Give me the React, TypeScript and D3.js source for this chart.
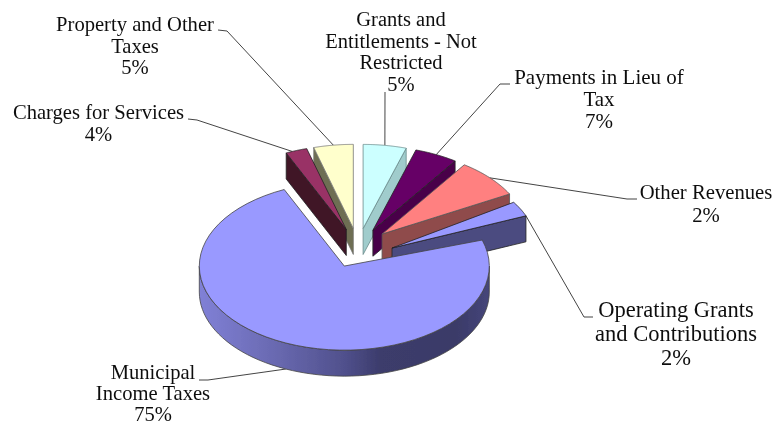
import React from "react";
import * as d3 from "d3";

const names = ["Grants", "Payments", "Other", "Operating", "Municipal", "Charges", "Property"];
const shares = [4.8, 4.8, 7.5, 2.9, 73.2, 2.4, 4.4];
const shownPercent = ["5%", "7%", "2%", "2%", "75%", "4%", "5%"];
const labelLines = [
  ["Grants and", "Entitlements - Not", "Restricted"],
  ["Payments in Lieu of", "Tax"],
  ["Other Revenues"],
  ["Operating Grants", "and Contributions"],
  ["Municipal", "Income Taxes"],
  ["Charges for Services"],
  ["Property and Other", "Taxes"],
];
const topColors = ["#CCFFFF", "#660066", "#FF8080", "#9999FF", "#9999FF", "#993366", "#FFFFCC"];
const wallColors = ["#A0CCCC", "#4A004A", "#8F4B4B", "#4C4C80", "#5a5a98", "#3F1428", "#6E6E52"];
const strokeColors = ["#6a8a8a", "#222", "#555", "#222", "#444", "#222", "#777"];

// layout
const CX = 358, CY = 248, R = 145, TILT = 0.58, DEPTH = 26, EXPLODE = 34;
const bearingOverride: (number | null)[] = [null, null, 45, 90, null, null, null];
const angleShift = [0, 0, 0, -4.5, 0, 0, 0];
const wallSide = ["end", "end", "end", "end", "rim", "start", "start"];
const drawOrder = [6, 5, 0, 1, 2, 3, 4];
const labelCenter: [number, number][] = [
  [401, 26], [599, 84], [706, 199], [676, 317], [153, 379], [98.5, 119], [135, 31],
];
const labelSize = [20.5, 21, 20.7, 22.5, 20.6, 20.6, 20.6];
const labelLead = [21.7, 22, 23, 24, 21.2, 22, 21.5];
const leader: { elbow: [number, number]; start: [number, number]; rimAt: number; dz: number }[] = [
  { start: [385, 92], elbow: [385, 92], rimAt: 0.5, dz: 0 },
  { start: [510, 84], elbow: [500, 84], rimAt: 0.5, dz: 0 },
  { start: [637, 199], elbow: [627, 199], rimAt: 0.5, dz: 0 },
  { start: [593, 317], elbow: [584, 317], rimAt: 0.98, dz: 0 },
  { start: [199, 380], elbow: [208, 380], rimAt: 0.5, dz: 26 },
  { start: [188, 119], elbow: [197, 120], rimAt: 0.3, dz: 0 },
  { start: [218, 30], elbow: [227, 31], rimAt: 0.5, dz: 0 },
];

const FONT = "'Liberation Serif','Times New Roman',serif";
const deg = Math.PI / 180;

export default function App() {
  const arcs = d3.pie<number>().sort(null).startAngle(0).endAngle(2 * Math.PI)(shares);
  const line = d3.line<[number, number]>();
  const yScale = d3.scaleLinear().domain([0, 1]).range([0, -TILT]);

  const geo = arcs.map((a, i) => {
    const s = a.startAngle + angleShift[i] * deg;
    const e = a.endAngle + angleShift[i] * deg;
    const mid = (a.startAngle + a.endAngle) / 2;
    const b = bearingOverride[i] != null ? (bearingOverride[i] as number) * deg : mid;
    const ax = CX + EXPLODE * Math.sin(b);
    const ay = CY + yScale(EXPLODE * Math.cos(b));
    const P = (t: number, dz = 0): [number, number] => [
      ax + R * Math.sin(t),
      ay + yScale(R * Math.cos(t)) + dz,
    ];
    return { s, e, ax, ay, P };
  });

  const samples = (s: number, e: number) =>
    d3.range(0, 61).map((k) => s + ((e - s) * k) / 60);

  return (
    <svg
      width={774}
      height={423}
      style={{ position: "absolute", left: 0, top: 0, background: "#fff" }}
      fontFamily={FONT}
    >
      <defs>
        <linearGradient id="rim" gradientUnits="userSpaceOnUse" x1={200} x2={490} y1={0} y2={0}>
          <stop offset="0" stopColor="#8080D6" />
          <stop offset="0.25" stopColor="#6A6AB2" />
          <stop offset="0.5" stopColor="#50508C" />
          <stop offset="0.62" stopColor="#3C3C6C" />
          <stop offset="0.88" stopColor="#3A3A68" />
          <stop offset="1" stopColor="#46467A" />
        </linearGradient>
        <filter id="soft" x="-2%" y="-2%" width="104%" height="104%">
          <feGaussianBlur stdDeviation="0.4" />
        </filter>
      </defs>

      <g filter="url(#soft)">
        {geo.map((g, i) => {
          const t = g.s + (g.e - g.s) * leader[i].rimAt;
          const pts: [number, number][] = [leader[i].start, leader[i].elbow, g.P(t, leader[i].dz)];
          return <path key={i} d={line(pts) ?? ""} fill="none" stroke="#444" strokeWidth={1} />;
        })}

        {drawOrder.map((i) => {
          const g = geo[i];
          const top: [number, number][] = [[g.ax, g.ay], ...samples(g.s, g.e).map((t) => g.P(t))];
          let wall: string;
          if (wallSide[i] === "rim") {
            const ts = samples(Math.max(g.s, 90 * deg), Math.min(g.e, 270 * deg));
            wall = line([...ts.map((t) => g.P(t)), ...ts.slice().reverse().map((t) => g.P(t, DEPTH))]) + "Z";
          } else {
            const t = wallSide[i] === "end" ? g.e : g.s;
            const rim = g.P(t);
            wall =
              line([
                [g.ax, g.ay],
                rim,
                [rim[0], rim[1] + DEPTH],
                [g.ax, g.ay + DEPTH],
              ]) + "Z";
          }
          return (
            <g key={names[i]} strokeWidth={0.8} strokeLinejoin="round" stroke={strokeColors[i]}>
              <path d={wall} fill={wallSide[i] === "rim" ? "url(#rim)" : wallColors[i]} />
              <path d={line(top) + "Z"} fill={topColors[i]} />
            </g>
          );
        })}

        {labelLines.map((lines, i) => (
          <text key={names[i]} textAnchor="middle" fontSize={labelSize[i]} fill="#111">
            {[...lines, shownPercent[i]].map((ln, k) => (
              <tspan key={k} x={labelCenter[i][0]} y={labelCenter[i][1] + k * labelLead[i]}>
                {ln}
              </tspan>
            ))}
          </text>
        ))}
      </g>
    </svg>
  );
}
